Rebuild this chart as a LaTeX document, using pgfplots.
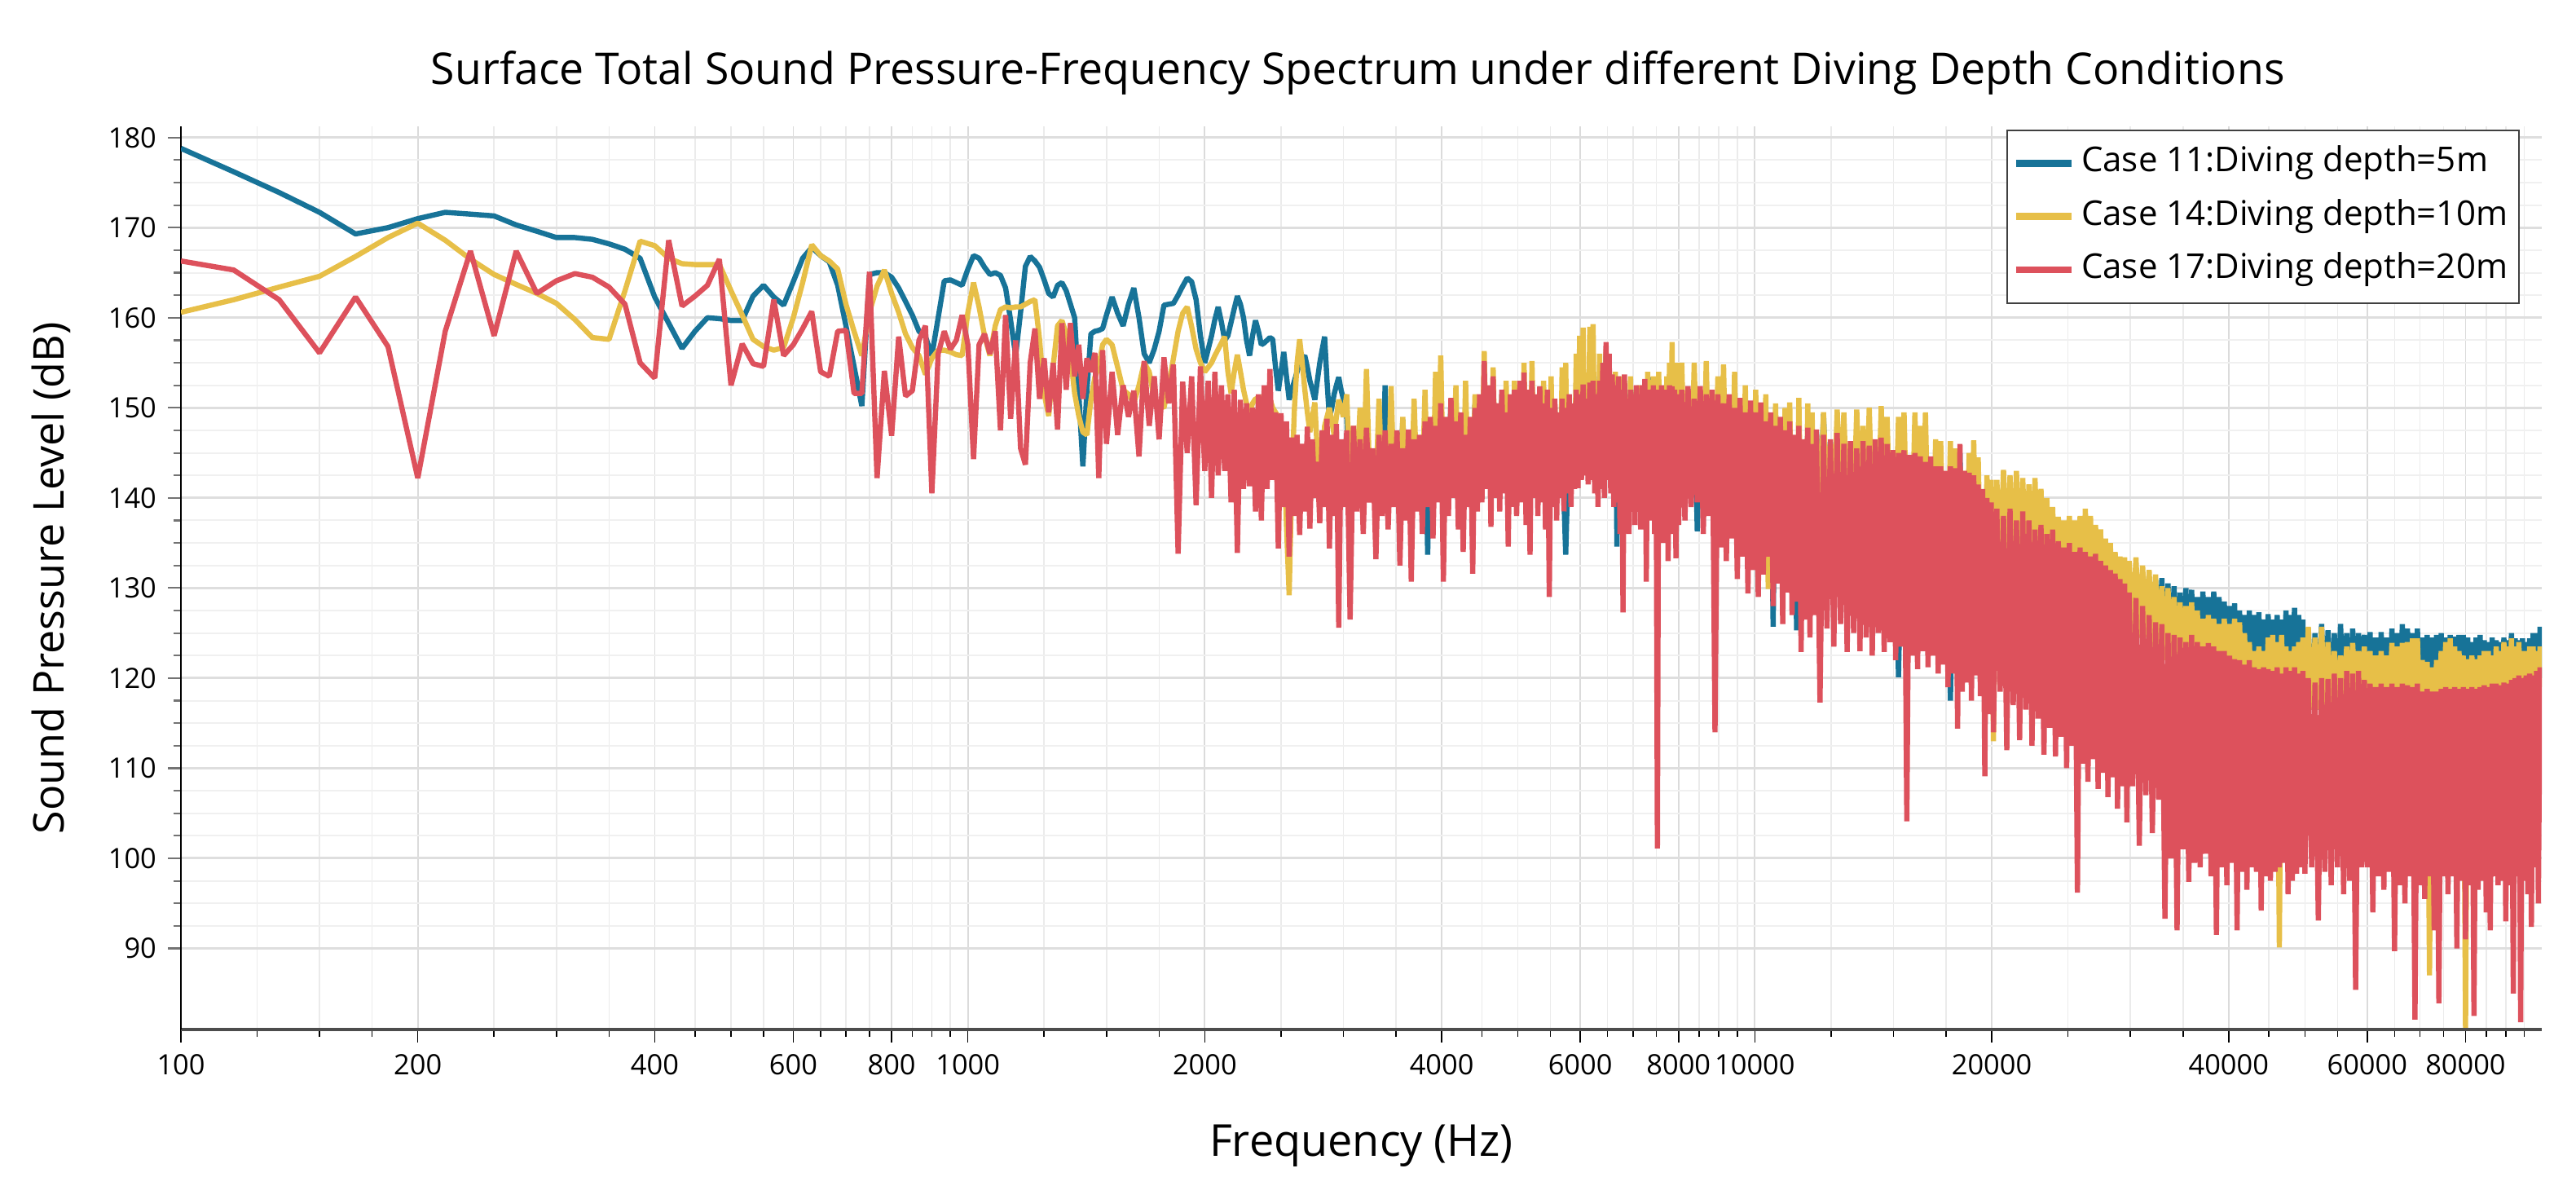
\documentclass[border=0pt]{standalone}
\usepackage{fontspec}
\setmainfont{Open Sans}
\usepackage{pgfplots}
\pgfplotsset{compat=1.18}
\usepackage{pgfplotstable}
\definecolor{cblue}{RGB}{23,115,152}
\definecolor{cyel}{RGB}{231,191,72}
\definecolor{cred}{RGB}{221,81,92}

\pgfplotstableread{
f B Y R
100 178.8 160.6 166.3
116.7 176.2 162.0 165.3
133.3 173.9 163.4 162.0
150 171.7 164.6 156.1
166.7 169.3 166.8 162.3
183.3 170.0 168.9 156.8
200 171.0 170.5 142.2
216.7 171.7 168.6 158.5
233.3 171.5 166.5 167.4
250 171.3 164.8 158.0
266.7 170.3 163.7 167.4
283.3 169.6 162.7 162.7
300 168.9 161.6 164.1
316.7 168.9 159.8 164.9
333.3 168.7 157.8 164.5
350 168.2 157.6 163.4
366.7 167.6 163.0 161.5
383.3 166.6 168.5 155.0
400 162.3 168.0 153.3
416.7 159.4 166.6 168.6
433.3 156.6 166.0 161.3
450 158.5 165.9 162.4
466.7 160.0 165.9 163.6
483.3 159.9 165.9 166.5
500 159.7 163.0 152.5
516.7 159.7 160.3 157.1
533.3 162.4 157.6 154.9
550 163.6 156.8 154.6
566.7 162.3 156.4 162.0
583.3 161.4 156.7 155.8
600 164.0 160.0 157.0
616.7 166.6 163.9 158.8
633.3 167.8 168.1 160.7
650 166.9 166.9 154.0
666.7 166.2 166.3 153.5
683.3 163.6 165.4 158.5
700 159.1 161.5 158.6
716.7 154.6 158.5 151.6
733.3 150.2 155.8 151.6
750 164.8 160.6 165.1
766.7 165.0 163.5 142.2
783.3 165.0 165.3 154.1
800 164.5 162.7 146.9
816.7 163.3 160.6 157.9
833.3 161.8 158.2 151.3
850 160.3 156.7 151.9
866.7 158.5 155.8 157.5
883.3 157.9 153.7 159.1
900 155.8 155.5 140.5
916.7 160.0 156.4 156.0
933.3 164.1 156.4 158.5
950 164.2 156.2 156.5
966.7 163.9 155.9 157.5
983.3 163.6 155.8 160.3
1000 165.4 160.6 157.0
1016.7 166.9 163.9 144.3
1033.3 166.6 161.2 157.0
1050 165.6 158.0 158.2
1066.7 164.8 155.8 156.0
1083.3 165.0 159.1 158.5
1100 164.7 160.9 147.5
1116.7 163.3 161.2 160.3
1133.3 159.7 161.1 148.8
1150 155.8 161.2 157.5
1166.7 160.6 161.2 145.5
1183.3 165.7 161.5 143.7
1200 166.8 161.8 155.0
1216.7 166.3 162.0 158.8
1233.3 165.6 157.6 151.0
1250 164.2 151.6 155.5
1266.7 162.7 149.1 149.5
1283.3 162.3 154.6 155.0
1300 163.6 159.1 147.6
1316.7 163.9 159.7 159.4
1333.3 163.0 158.2 152.0
1350 161.5 155.8 159.4
1366.7 160.0 151.6 153.5
1383.3 151.6 149.1 157.0
1400 143.5 147.3 151.0
1416.7 152.0 147.0 155.5
1433.3 158.2 150.9 154.0
1450 158.5 153.4 156.1
1466.7 158.6 154.6 142.2
1483.3 158.8 157.0 156.4
1500 160.3 157.6 146.0
1525 162.3 157.0 154.0
1550 160.5 154.5 147.0
1575 159.1 152.0 152.5
1600 161.5 151.5 149.0
1625 163.3 150.5 151.9
1650 160.0 152.5 144.6
1675 156.0 155.0 155.2
1700 155.0 154.0 148.0
1725 156.5 151.0 153.5
1750 158.5 150.3 146.5
1775 161.4 150.0 155.6
1800 161.5 152.5 150.5
1825 161.6 155.5 154.8
1850 162.5 158.5 133.8
1875 163.5 160.5 152.9
1900 164.4 161.2 145.0
1925 164.0 159.0 153.5
1950 162.0 156.5 139.2
1975 158.0 155.0 154.6
2000 155.0 154.0 143.0
2020 156.5 154.5 153.0
2040 158.0 155.0 140.0
2060 159.8 155.8 154.0
2080 161.2 156.5 142.5
2100 159.5 157.2 152.5
2120 157.5 157.9 143.0
2140 158.0 154.0 151.5
2160 159.5 151.6 139.5
2180 161.0 154.0 152.0
2200 162.4 155.9 133.9
2220 161.5 154.0 150.9
2240 160.0 152.0 141.0
2260 157.5 150.5 150.5
2280 155.8 149.4 141.3
2300 158.0 150.5 150.0
2320 159.7 151.0 138.5
2340 158.5 151.0 151.5
2360 157.0 150.9 137.5
2380 157.2 151.5 152.5
2400 157.5 152.0 141.0
2420 157.8 151.0 154.3
2440 157.6 150.0 142.0
2460 154.5 149.5 149.5
2480 151.9 149.0 134.4
2500 154.0 147.5 149.4
2520 156.2 146.0 139.0
2540 153.5 137.0 148.5
2560 150.9 129.2 133.5
2580 152.0 142.0 146.7
2600 153.0 150.0 138.0
2620 154.0 155.0 147.0
2640 155.0 157.6 135.9
2660 155.5 155.0 146.0
2680 155.8 152.0 138.5
2700 154.5 149.5 147.9
2720 153.0 147.3 136.6
2740 152.0 149.0 146.5
2760 150.9 150.6 140.0
2780 153.0 145.0 144.0
2800 155.0 138.6 137.2
2820 156.5 144.0 147.5
2840 157.9 148.0 139.0
2860 153.0 149.0 148.8
2880 148.8 150.0 134.4
2900 150.0 148.5 147.0
2920 151.5 147.0 138.0
2940 152.5 149.0 148.2
2960 153.4 150.9 125.6
2980 152.0 150.0 146.5
3000 151.0 149.0 139.0
3030 149.0 151.5 147.5
3060 140.0 141.0 126.5
3090 147.7 148.0 148.0
3120 141.0 142.0 138.5
3150 147.5 150.0 146.5
3180 139.6 141.0 136.0
3210 149.7 154.3 147.8
3240 141.0 142.0 139.5
3270 145.2 145.0 145.5
3300 140.0 141.0 133.2
3330 149.5 151.0 147.0
3360 141.0 141.5 138.0
3390 152.5 147.0 147.5
3420 140.5 140.5 136.5
3450 150.0 152.4 146.0
3480 141.0 141.0 139.0
3510 147.2 147.0 147.5
3540 140.0 140.0 132.5
3570 148.7 149.0 145.5
3600 141.0 141.0 137.5
3630 147.3 147.0 147.6
3660 140.0 140.0 130.7
3690 148.5 151.0 146.5
3720 141.0 141.5 138.5
3750 146.7 146.5 147.0
3780 140.5 141.0 136.0
3810 149.5 152.0 148.5
3840 133.7 140.0 139.0
3870 148.7 148.5 149.0
3900 141.0 141.0 135.5
3930 150.5 154.0 148.0
3960 142.0 142.0 139.5
3990 151.0 155.8 150.5
4020 141.0 141.0 130.7
4050 148.7 148.5 149.0
4080 142.0 142.0 138.0
4110 150.8 150.5 151.1
4140 142.5 142.5 140.0
4170 150.5 152.5 148.5
4200 141.0 141.0 136.5
4230 149.2 149.0 149.5
4260 140.5 141.0 134.0
4290 149.5 153.0 147.0
4320 141.0 141.5 139.0
4350 148.7 148.5 149.0
4380 140.0 140.0 131.6
4410 150.5 151.5 150.0
4440 142.0 142.0 138.5
4470 151.2 151.0 151.5
4500 143.0 143.0 139.5
4530 153.5 156.3 155.2
4560 144.0 144.0 141.0
4590 152.2 152.0 152.5
4620 143.0 143.0 136.8
4650 152.5 154.5 153.5
4680 143.5 143.0 140.0
4710 150.2 150.0 150.5
4740 143.0 143.0 138.5
4770 151.5 151.5 152.0
4800 142.5 142.0 140.5
4830 151.0 153.0 149.5
4860 142.0 142.0 134.6
4890 151.2 151.0 151.5
4920 143.0 142.5 139.0
4950 152.0 153.0 152.0
4980 142.5 142.0 138.0
5030 152.0 152.5 153.0
5060 142.0 142.5 139.5
5090 152.5 155.0 153.9
5120 142.0 142.0 137.0
5150 151.5 151.5 152.0
5180 141.0 141.0 133.7
5210 152.0 155.2 153.0
5240 141.5 142.0 140.0
5270 151.0 151.0 151.5
5300 142.0 142.0 138.0
5330 151.5 152.0 152.4
5360 141.0 141.5 139.5
5390 150.5 153.0 150.5
5420 141.0 141.0 136.5
5450 151.0 151.5 152.0
5480 140.0 140.0 129.0
5510 150.5 153.5 150.0
5540 141.0 141.0 139.0
5570 150.0 150.5 151.0
5600 140.5 140.5 137.5
5630 149.2 149.0 149.5
5660 141.0 141.0 140.0
5690 151.0 154.5 151.0
5720 140.0 140.5 138.5
5750 133.7 155.0 150.0
5780 141.0 141.0 140.5
5810 151.2 151.0 151.5
5840 141.5 141.5 139.0
5870 150.2 150.0 150.5
5900 142.0 142.0 141.0
5930 152.0 156.0 152.0
5960 143.0 143.0 141.1
5990 152.5 158.0 151.5
6020 143.5 143.5 142.0
6050 153.0 158.9 152.6
6080 144.0 144.0 142.5
6110 150.7 150.5 151.0
6140 143.5 143.5 141.5
6170 153.5 159.0 152.8
6200 144.0 144.0 142.0
6230 153.0 159.3 153.0
6260 143.0 143.0 140.5
6290 151.2 151.0 151.5
6320 143.0 143.0 139.0
6350 153.5 156.0 153.0
6380 142.5 142.5 141.0
6410 154.7 154.5 155.0
6440 143.0 143.0 140.0
6470 156.0 156.5 157.3
6500 144.0 144.0 142.0
6530 155.0 155.5 156.0
6560 142.0 142.0 140.5
6590 153.4 153.0 153.7
6620 141.0 141.0 139.0
6650 152.5 154.0 152.5
6680 134.6 140.5 139.5
6710 153.0 153.0 153.5
6740 141.0 141.0 136.0
6770 152.0 153.5 152.0
6800 139.0 139.0 127.3
6830 152.5 153.0 153.7
6860 140.5 141.0 138.0
6890 150.7 150.5 151.0
6920 140.0 140.0 136.0
6950 152.0 153.5 152.0
6980 140.5 140.5 138.5
7010 151.2 151.0 151.5
7040 140.0 140.0 137.0
7070 152.0 152.0 152.5
7100 141.0 141.0 139.0
7130 151.5 152.5 151.0
7160 140.0 140.0 136.5
7190 152.0 152.0 152.5
7220 140.5 140.5 138.0
7250 152.5 153.0 153.2
7280 139.0 139.0 130.7
7310 153.0 154.0 152.0
7340 140.0 140.0 137.5
7370 153.4 151.0 151.5
7400 140.5 140.5 139.0
7430 152.5 153.5 152.5
7460 140.0 140.0 136.0
7490 150.7 150.5 151.0
7520 139.0 139.0 101.1
7550 152.5 154.0 152.0
7580 140.0 140.0 137.5
7610 152.0 152.0 152.5
7640 139.5 139.5 135.0
7670 151.2 151.0 151.5
7700 140.0 140.0 138.0
7730 152.0 153.5 152.0
7760 139.5 139.5 133.0
7790 153.0 155.0 152.5
7820 140.0 140.0 137.5
7850 154.7 157.3 152.4
7880 139.0 139.0 136.0
7910 151.7 151.5 152.0
7940 139.5 139.5 133.3
7970 152.0 155.0 151.5
8000 140.0 140.0 137.0
8075 152.0 155.0 152.0
8150 141.0 141.0 137.5
8225 152.1 152.0 152.4
8300 141.5 141.5 139.0
8375 151.5 155.0 151.0
8450 136.3 141.0 139.5
8525 152.0 152.0 152.4
8600 141.0 141.0 136.0
8675 152.5 155.2 151.5
8750 140.5 140.5 138.0
8825 151.5 151.5 152.0
8900 140.0 140.0 114.0
8975 151.0 153.5 151.5
9050 140.0 140.0 134.5
9125 151.5 154.8 150.5
9200 139.5 139.5 133.0
9275 151.2 151.0 151.5
9350 139.0 139.0 135.5
9425 151.0 154.0 150.0
9500 139.0 139.0 131.0
9575 150.5 150.5 151.1
9650 138.5 138.5 133.5
9725 150.0 152.5 149.5
9800 138.0 138.0 129.4
9875 150.5 150.5 150.8
9950 138.0 138.0 132.0
10025 149.5 152.0 149.5
10100 137.5 137.5 129.0
10175 150.0 150.0 150.6
10250 137.0 137.0 131.5
10325 149.0 151.5 148.5
10400 136.5 129.9 133.5
10475 149.2 149.0 149.5
10550 125.7 136.0 128.0
10625 148.5 150.5 148.0
10700 136.0 136.0 130.5
10775 148.7 148.5 149.0
10850 135.5 135.5 126.0
10925 148.0 150.0 147.5
11000 135.0 135.0 129.5
11075 148.5 150.6 148.5
11150 134.5 134.5 127.0
11225 146.7 146.5 147.0
11300 125.3 134.0 128.5
11375 148.0 151.1 148.0
11450 134.0 134.0 122.9
11525 146.2 146.0 146.5
11600 133.5 133.5 126.5
11675 147.5 150.5 147.8
11750 133.0 133.0 124.5
11825 146.5 149.5 146.0
11900 133.0 133.0 127.0
11975 147.3 147.0 147.6
12100 138.0 139.0 117.3
12225 149.3 149.5 147.0
12350 138.0 139.0 125.5
12475 146.2 146.0 146.5
12600 129.0 139.0 123.5
12725 147.0 149.8 147.2
12850 138.0 139.0 126.0
12975 147.5 149.5 146.0
13100 137.5 138.5 122.9
13225 146.0 146.0 146.3
13350 137.5 138.5 125.0
13475 147.0 149.8 145.5
13600 137.0 138.0 123.0
13725 146.5 148.0 146.3
13850 137.0 138.0 124.5
13975 147.0 150.0 145.8
14100 137.5 138.5 122.5
14225 146.2 146.0 146.5
14350 137.5 138.5 125.0
14475 147.5 150.2 146.7
14600 137.0 138.0 122.9
14725 146.5 149.0 146.0
14850 136.5 137.5 124.0
14975 145.0 145.0 145.3
15100 136.0 137.0 122.0
15225 120.1 149.0 145.0
15350 136.0 137.0 123.5
15475 146.0 149.5 145.3
15600 135.5 136.5 104.1
15725 144.5 144.5 144.8
15850 135.5 136.5 122.5
15975 146.0 149.5 145.0
16100 135.0 136.0 121.0
16225 145.0 148.0 144.6
16350 135.0 136.0 123.0
16475 145.5 149.5 144.0
16600 134.5 135.5 121.2
16725 144.3 144.0 144.6
16850 134.0 135.0 122.5
16975 144.0 146.5 143.5
17100 134.0 135.0 120.5
17225 144.5 146.3 143.5
17350 133.5 134.5 121.5
17475 142.7 142.5 143.0
17600 133.5 134.5 119.0
17725 117.5 146.3 143.5
17850 133.0 134.0 120.5
17975 143.5 145.5 143.3
18100 133.0 134.0 114.4
18225 145.0 143.5 146.0
18350 133.0 134.0 118.5
18475 142.7 143.0 143.0
18600 132.5 133.5 119.5
18725 143.0 145.0 142.8
18850 132.0 133.0 117.5
18975 143.0 146.4 142.5
19100 132.0 133.0 120.3
19225 142.0 144.5 141.5
19350 131.5 132.5 118.0
19475 140.7 140.5 141.0
19600 131.0 132.0 109.1
19725 141.0 142.5 140.0
19850 130.5 131.5 116.0
19975 140.5 142.0 139.5
20100 133.0 113.0 114.0
20300 140.5 142.0 138.8
20500 132.0 133.0 118.5
20700 141.0 143.1 138.0
20900 131.5 132.5 112.0
21100 141.5 142.5 138.8
21300 131.0 132.0 117.0
21500 141.0 143.0 137.5
21700 131.0 132.0 113.1
21900 140.5 142.2 138.5
22100 130.5 131.5 116.5
22300 140.0 141.5 137.5
22500 130.0 131.0 112.5
22700 140.5 142.2 136.5
22900 129.5 130.5 115.5
23100 139.5 141.0 137.0
23300 129.0 130.0 111.5
23500 138.5 140.0 136.0
23700 128.5 129.5 114.5
23900 137.5 139.0 136.5
24100 128.0 129.0 111.3
24300 136.5 137.9 135.2
24500 127.5 128.5 113.5
24700 136.0 137.5 134.5
24900 127.0 128.0 110.0
25100 136.5 138.0 135.0
25300 126.5 127.5 112.5
25500 136.0 137.5 134.0
25700 126.0 127.0 96.2
25900 136.5 138.0 134.5
26100 126.0 127.0 110.5
26300 137.0 138.8 134.0
26500 125.5 126.5 108.5
26700 136.0 138.0 133.5
26900 125.0 126.0 111.0
27100 135.5 137.0 133.8
27300 124.5 125.5 107.7
27500 135.0 136.5 133.0
27700 124.0 125.0 109.5
27900 134.0 135.5 132.5
28100 123.5 124.5 106.8
28300 133.5 135.0 132.0
28500 123.0 124.0 109.0
28700 133.0 134.0 131.6
28900 122.5 123.5 105.5
29100 132.5 133.5 131.0
29300 122.0 123.0 108.0
29500 132.0 133.4 130.5
29700 121.5 122.5 104.0
29900 131.5 133.0 129.5
30200 125.0 125.0 108.0
30500 131.6 133.4 128.9
30800 124.5 124.5 101.4
31100 131.0 132.5 128.0
31400 124.5 124.5 107.0
31700 131.3 132.0 127.0
32000 123.0 123.0 102.8
32300 130.8 131.5 126.2
32600 122.5 122.5 106.5
32900 131.1 130.2 126.0
33200 122.0 122.0 93.3
33500 130.5 130.0 125.0
33800 121.5 121.5 100.0
34100 130.2 129.0 124.8
34400 121.0 121.0 92.0
34700 129.5 128.4 124.5
35000 121.0 121.0 101.0
35300 130.0 128.0 124.0
35600 120.5 120.5 97.4
35900 129.8 128.4 124.8
36200 120.0 120.0 99.5
36500 129.0 127.5 124.0
36800 120.0 120.0 99.0
37100 129.6 126.6 123.5
37400 119.5 119.5 100.5
37700 129.0 127.0 123.9
38000 119.5 119.5 98.0
38300 129.6 126.6 123.5
38600 119.0 119.0 91.5
38900 129.0 126.0 123.0
39200 119.0 119.0 99.0
39500 128.5 126.6 123.0
39800 118.5 118.5 97.0
40100 128.0 126.0 122.5
40400 118.0 118.0 99.5
40700 128.3 126.6 122.1
41000 118.0 118.0 92.0
41300 127.5 126.2 122.0
41600 117.5 117.5 98.5
41900 127.0 125.0 121.5
42200 117.5 117.5 96.5
42500 127.5 124.0 122.0
42800 117.0 117.0 99.0
43100 127.0 123.0 121.2
43400 117.0 117.0 98.5
43700 127.3 123.5 121.0
44000 117.0 117.0 94.2
44300 126.5 123.0 121.2
44600 117.0 117.0 98.0
44900 127.1 124.5 121.0
45200 116.5 116.5 97.5
45500 126.5 124.8 120.8
45800 116.5 116.5 98.5
46100 127.0 124.0 121.2
46400 116.5 90.1 99.0
46700 126.5 124.8 120.5
47000 116.5 116.5 99.5
47300 127.5 123.5 121.2
47600 116.5 116.5 96.0
47900 127.0 123.0 120.8
48200 116.5 116.5 97.5
48500 127.8 123.5 121.2
48800 116.0 116.0 98.3
49100 127.0 124.0 120.5
49400 116.0 116.0 99.0
49700 126.5 124.5 120.8
50000 116.5 116.5 98.3
50500 125.5 125.7 120.0
51000 116.5 116.5 99.0
51500 125.0 124.5 119.5
52000 116.5 116.5 93.1
52500 126.0 125.7 120.0
53000 116.5 116.5 98.5
53500 125.3 124.0 119.9
54000 116.5 116.5 97.0
54500 125.0 123.0 120.5
55000 116.5 116.5 99.0
55500 126.0 122.5 120.0
56000 117.0 117.0 96.0
56500 125.0 123.5 120.8
57000 117.0 117.0 97.5
57500 125.5 123.9 120.5
58000 117.0 117.0 85.4
58500 125.0 123.0 120.8
59000 117.0 117.0 99.0
59500 124.8 123.5 119.8
60000 116.0 116.0 99.0
60500 125.1 123.0 119.4
61000 116.0 116.0 94.0
61500 124.5 122.5 119.0
62000 116.0 116.0 98.0
62500 125.1 123.0 119.4
63000 116.0 116.0 96.5
63500 124.5 122.5 119.0
64000 116.0 116.0 98.5
64500 125.5 123.9 119.4
65000 116.0 116.0 89.7
65500 125.0 123.5 119.0
66000 116.0 116.0 97.0
66500 126.0 123.9 119.4
67000 116.0 116.0 95.0
67500 125.5 124.0 119.2
68000 115.5 115.5 98.0
68500 125.0 124.4 119.0
69000 115.5 115.5 82.1
69500 125.5 124.4 119.4
70000 115.5 115.5 97.0
70500 124.5 122.0 118.5
71000 115.0 115.0 95.5
71500 124.8 121.8 118.8
72000 115.0 87.0 98.0
72500 124.5 121.2 118.5
73000 115.0 115.0 92.0
73500 124.8 122.0 118.5
74000 115.0 115.0 83.9
74500 125.0 123.0 118.8
75000 115.0 115.0 98.0
75500 124.5 124.0 119.0
76000 115.0 115.0 96.0
76500 124.8 124.4 118.8
77000 115.0 115.0 98.0
77500 124.6 123.5 119.0
78000 115.0 115.0 90.0
78500 124.8 123.0 118.8
79000 115.0 115.0 97.5
79500 124.8 122.5 119.0
80000 115.0 81.2 91.0
80500 124.5 122.1 118.8
81000 115.0 115.0 97.0
81500 124.0 122.5 119.0
82000 115.0 115.0 82.5
82500 124.5 122.1 118.8
83000 115.0 115.0 96.5
83500 124.8 122.5 119.0
84000 115.0 115.0 97.5
84500 124.2 123.0 119.2
85000 115.0 115.0 94.0
85500 124.0 123.0 119.0
86000 115.0 115.0 92.0
86500 124.5 122.5 119.4
87000 115.5 115.5 98.0
87500 124.2 123.5 119.4
88000 115.5 115.5 97.0
88500 124.0 123.0 119.2
89000 115.5 115.5 97.5
89500 124.5 124.0 119.5
90000 115.5 115.5 93.0
90500 124.2 123.5 119.4
91000 115.5 115.5 97.0
91500 125.0 124.4 119.8
92000 115.5 115.5 85.0
92500 124.4 123.5 120.0
93000 116.0 116.0 98.0
93500 124.2 124.0 120.3
94000 116.0 116.0 81.8
94500 124.4 123.0 120.0
95000 116.0 116.0 97.5
95500 124.0 123.0 120.3
96000 116.0 116.0 96.0
96500 124.4 123.5 120.5
97000 116.0 116.0 92.4
97500 125.0 123.5 120.3
98000 116.5 116.5 99.0
98500 125.0 123.0 120.8
99000 116.5 116.5 95.0
99500 125.7 123.5 121.2
100000 120.0 119.0 108.0
}\spec

\begin{document}
\begin{tikzpicture}
\path[use as bounding box] (-55.5pt,-48pt) rectangle (734.75pt,315.75pt);
\begin{axis}[
  at={(0,0)}, anchor=south west,
  width=724.25pt, height=276.875pt, scale only axis,
  xmode=log, xmin=100, xmax=100000, ymin=81, ymax=181.2,
  axis x line*=bottom, axis y line*=left,
  x axis line style={-, draw=black!70, line width=1.1pt},
  y axis line style={-, draw=black, line width=0.6pt},
  xtick={100,200,400,600,800,1000,2000,4000,6000,8000,10000,20000,40000,60000,80000},
  xticklabels={100,200,400,600,800,1000,2000,4000,6000,8000,10000,20000,40000,60000,80000},
  minor xtick={125,150,175,250,300,350,450,500,550,650,700,750,850,900,950,1250,1500,1750,2500,3000,3500,4500,5000,5500,6500,7000,7500,8500,9000,9500,12500,15000,17500,25000,30000,35000,45000,50000,55000,65000,70000,75000,85000,90000,95000},
  ytick={90,100,...,180},
  minor y tick num=3,
  grid=both,
  major x grid style={draw=black!14, line width=0.45pt},
  minor x grid style={draw=black!8, line width=0.4pt},
  major y grid style={draw=black!13, line width=0.75pt},
  minor y grid style={draw=black!6, line width=0.5pt},
  tick align=outside,
  major tick length=4pt, minor tick length=2.3pt,
  x tick style={black, line width=0.4pt},
  y tick style={black!55, line width=0.55pt},
  /pgf/number format/assume math mode=true,
  tick label style={font=\fontsize{8.6}{10}\selectfont},
  title={Surface Total Sound Pressure-Frequency Spectrum under different Diving Depth Conditions},
  title style={at={(0.4985,1.0473)}, anchor=base, yshift=-6pt, font=\fontsize{13.4}{16}\selectfont},
  xlabel={Frequency (Hz)},
  xlabel style={at={(0.5,-0.14)}, anchor=base, font=\fontsize{13.5}{16}\selectfont},
  ylabel={Sound Pressure Level (dB)},
  ylabel style={at={(-0.0497,0.5)}, anchor=base, font=\fontsize{13}{16}\selectfont},
  legend style={at={(1,1)}, anchor=north east, xshift=-6.75pt, yshift=-0.9pt,
    draw=black!75, line width=0.5pt, fill=white,
    font=\fontsize{10.5}{12}\selectfont,
    inner xsep=1.5pt, inner ysep=2pt, row sep=0pt,
    nodes={inner xsep=2pt, inner ysep=3.1pt, text height=7.6pt, text depth=2.5pt}},
  legend cell align=left,
  legend image code/.code={\draw[line width=2.2pt] (0pt,0pt) -- (17pt,0pt);},
]
\addplot[cblue, line width=1.6pt, line join=bevel] table[x=f, y=B] {\spec};
\addlegendentry{Case 11:Diving depth=5m}
\addplot[cyel, line width=1.6pt, line join=bevel] table[x=f, y=Y] {\spec};
\addlegendentry{Case 14:Diving depth=10m}
\addplot[cred, line width=1.6pt, line join=bevel] table[x=f, y=R] {\spec};
\addlegendentry{Case 17:Diving depth=20m}
\end{axis}
\end{tikzpicture}
\end{document}
